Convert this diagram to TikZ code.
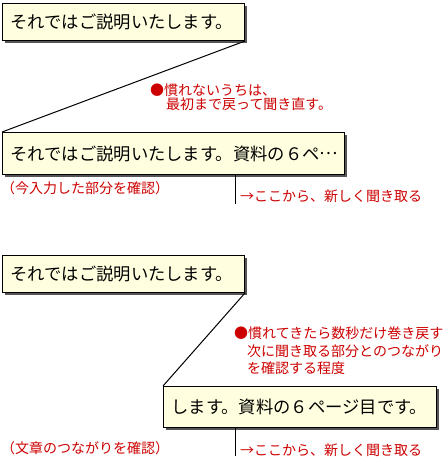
\documentclass[tikz,border=0pt]{standalone}
\usepackage{fontspec}
\setmainfont{Noto Sans CJK JP}
\usetikzlibrary{shadows}
\definecolor{boxfill}{HTML}{FFFFE0}
\definecolor{txtred}{HTML}{CC0000}
\definecolor{shadowgray}{HTML}{555555}
\begin{document}
\begin{tikzpicture}[x=1pt,y=-1pt,
  box/.style={draw=black, line width=1pt, fill=boxfill, anchor=north west,
    inner xsep=8pt, inner ysep=0pt, align=left,
    font=\fontsize{17.3}{20}\selectfont,
    drop shadow={shadow xshift=2pt, shadow yshift=-2pt, fill=shadowgray, opacity=1}},
  note/.style={text=txtred, font=\fontsize{14}{16}\selectfont, anchor=west, inner sep=0pt},
  conn/.style={line width=1pt}]
\path[use as bounding box] (0,0) rectangle (444,459);

% upper example
\node[box, text width=226pt, minimum height=37pt] (b1) at (2,3) {それではご説明いたします。};
\node[box, text width=326pt, minimum height=42pt] (b2) at (2,132) {それではご説明いたします。資料の６ペ\raisebox{0.3em}{…}};
\draw[conn] (b1.south east) -- (b2.north west);
\node[note] (n1a) at (150,90) {●慣れないうちは、};
\node[note] (n1b) at (166,104) {最初まで戻って聞き直す。};
\coordinate (v1) at (235,204);
\draw[conn] (b2.south -| v1) -- (v1);
\node[note] (l1) at (1,188) {（今入力した部分を確認）};
\node[note] (r1) at (240,196) {→ここから、新しく聞き取る};

% lower example
\node[box, text width=226pt, minimum height=37pt] (b3) at (2,255) {それではご説明いたします。};
\node[box, text width=257pt, minimum height=41pt] (b4) at (163,386) {します。資料の６ページ目です。};
\draw[conn] (b3.south east) -- (b4.north west);
\node[note] (n2a) at (234,333) {●慣れてきたら数秒だけ巻き戻す};
\node[note] (n2b) at (247,351) {次に聞き取る部分とのつながり};
\node[note] (n2c) at (247,368) {を確認する程度};
\coordinate (v2) at (235,456);
\draw[conn] (b4.south -| v2) -- (v2);
\node[note] (l2) at (1,448) {（文章のつながりを確認）};
\node[note] (r2) at (240,450) {→ここから、新しく聞き取る};
\end{tikzpicture}
\end{document}
